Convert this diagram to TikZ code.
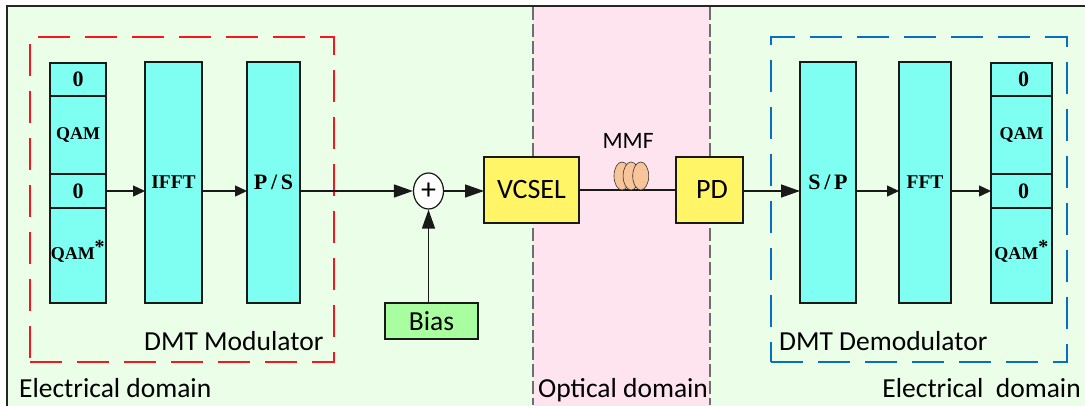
\documentclass[tikz,border=0pt]{standalone}
\usepackage{fontspec}
\setmainfont{Carlito}
\newfontfamily\blockfont{Liberation Serif}
\usepackage{xcolor}
\usetikzlibrary{shapes.geometric,arrows.meta,positioning}
\definecolor{elecgreen}{RGB}{235,255,232}
\definecolor{optpink}{RGB}{253,228,239}
\definecolor{dspcyan}{RGB}{127,255,241}
\definecolor{laseryellow}{RGB}{255,245,102}
\definecolor{biasgreen}{RGB}{169,255,160}
\definecolor{coilorange}{RGB}{248,196,154}
\definecolor{modred}{RGB}{250,20,30}
\definecolor{demodblue}{RGB}{10,110,190}
\definecolor{domaingrey}{RGB}{110,110,110}

\begin{document}
\begin{tikzpicture}[x=1pt, y=-1pt,
    dspblock/.style={rectangle, draw=black!90, line width=1.2pt, fill=dspcyan,
        outer sep=0pt, inner sep=0pt, minimum height=241pt,
        font=\blockfont\bfseries\fontsize{19.5}{22}\selectfont},
    cell/.style={rectangle, draw=black!90, line width=1.2pt, fill=dspcyan,
        outer sep=0pt, inner sep=0pt,
        font=\blockfont\bfseries\fontsize{18}{20}\selectfont},
    zerocell/.style={cell, font=\blockfont\bfseries\fontsize{22}{24}\selectfont},
    optblock/.style={rectangle, draw=black!90, line width=1.2pt, fill=laseryellow,
        outer sep=0pt, minimum height=66pt, font=\fontsize{28}{30}\selectfont},
    coil/.style={ellipse, draw=black!80, line width=0.6pt, fill=coilorange,
        inner sep=0pt, minimum width=16pt, minimum height=28pt},
    groupbox/.style={rectangle, line width=1.6pt, dash pattern=on 32pt off 15pt,
        outer sep=0pt, inner sep=0pt, minimum height=325pt},
    domainline/.style={line width=1.1pt, domaingrey, dash pattern=on 13pt off 4pt},
    caption/.style={font=\fontsize{27.5}{30}\selectfont, inner sep=0pt},
    arr/.style={-{Triangle[length=12pt, width=11pt]}, line width=1.4pt, black!90},
    bigarr/.style={-{Triangle[length=19pt, width=13pt]}, line width=1.4pt, black!90}
]
    \useasboundingbox (0,0) rectangle (1085,405);

    % Domain backgrounds
    \draw[fill=elecgreen, line width=1.2pt, black!85] (7,6) rectangle (1095,415);
    \fill[elecgreen] (8,7) rectangle (1095,415);
    \fill[optpink] (533,7) rectangle (710,415);
    \draw[domainline] (533,7) -- (533,405);
    \draw[domainline] (710,7) -- (710,405);

    % Dashed group frames
    \node[groupbox, draw=modred, minimum width=304pt] (modframe) at (182,199.5) {};
    \node[groupbox, draw=demodblue, minimum width=296pt] (demodframe) at (919,199.5) {};

    % Modulator
    \node[zerocell, minimum width=56pt, minimum height=33pt] (zeroa) at (78,79.5) {0};
    \node[cell, minimum width=56pt, minimum height=78pt, below=0pt of zeroa] (qama) {\raisebox{-1.5pt}{QAM}};
    \node[zerocell, minimum width=56pt, minimum height=34pt, below=0pt of qama] (zerob) {0};
    \node[cell, minimum width=56pt, minimum height=95pt, below=0pt of zerob] (qamb) {\raisebox{11pt}{QAM\textsuperscript{\fontsize{20}{20}\selectfont *}}};
    \node[dspblock, minimum width=57pt] (ifft) at (173.5,182.5) {IFFT};
    \node[dspblock, minimum width=53pt, right=45pt of ifft, font=\blockfont\bfseries\fontsize{22}{24}\selectfont] (ps) {\raisebox{-1.5pt}{P\,/\,S}};

    \draw[arr] (zerob.east) -- (zerob.east -| ifft.west);
    \draw[arr] (zerob.east -| ifft.east) -- (zerob.east -| ps.west);

    % Bias and adder
    \node[ellipse, draw=black!90, line width=1.2pt, fill=white, inner sep=0pt,
        minimum width=30pt, minimum height=36pt, font=\fontsize{30}{30}\selectfont] (sum) at (428.5,191) {+};
    \node[rectangle, draw=black!90, line width=1.2pt, fill=biasgreen, outer sep=0pt,
        minimum width=93pt, minimum height=36pt, font=\fontsize{27.5}{30}\selectfont] (bias) at (431.5,321) {Bias};

    \draw[bigarr] (zerob.east -| ps.east) -- (sum.west);
    \draw[bigarr] (sum |- bias.north) -- (sum.south);

    % Optical link
    \node[optblock, minimum width=95pt] (vcsel) at (531.5,190) {VCSEL};
    \node[optblock, minimum width=67pt, right=97pt of vcsel] (pd) {\hspace*{5pt}PD};
    \draw[bigarr] (sum.east) -- (sum.east -| vcsel.west);
    \draw[line width=1.2pt, black!90] (vcsel.east) -- (pd.west);

    \node[coil] (coila) at (622,176) {};
    \node[coil, right=-7.5pt of coila] (coilb) {};
    \node[coil, right=-7pt of coilb] (coilc) {};
    \node[font=\fontsize{23.5}{26}\selectfont, inner sep=0pt, above=13pt of coilb, xshift=-3pt] (mmf) {MMF};

    % Demodulator
    \node[dspblock, minimum width=56pt] (sp) at (828,182.5) {\raisebox{-1.5pt}{\fontsize{22}{24}\selectfont S\,/\,P}};
    \node[dspblock, minimum width=52pt, right=43pt of sp] (fft) {FFT};
    \node[zerocell, minimum width=61pt, minimum height=33pt] (zeroc) at (1021.5,79.5) {\hspace*{4pt}0};
    \node[cell, minimum width=61pt, minimum height=78pt, below=0pt of zeroc] (qamc) {\raisebox{-1.5pt}{QAM}};
    \node[zerocell, minimum width=61pt, minimum height=34pt, below=0pt of qamc] (zerod) {\hspace*{4pt}0};
    \node[cell, minimum width=61pt, minimum height=95pt, below=0pt of zerod] (qamd) {\raisebox{11pt}{QAM\textsuperscript{\fontsize{20}{20}\selectfont *}}};

    \draw[bigarr] (pd.east |- zerod.east) -- (sp.west |- zerod.east);
    \draw[arr] (sp.east |- zerod.east) -- (fft.west |- zerod.east);
    \draw[arr] (fft.east |- zerod.east) -- (zerod.west);

    % Captions
    \node[caption, anchor=west] (modtext) at (144,341) {DMT Modulator};
    \node[caption, anchor=west] (demodtext) at (779,341) {DMT Demodulator};
    \node[caption, anchor=west] (elecl) at (19,388) {Electrical domain};
    \node[caption, anchor=west] (optic) at (538,390) {Optical domain};
    \node[caption, anchor=east] (elecr) at (1081,388) {Electrical\ \ domain};
\end{tikzpicture}
\end{document}
